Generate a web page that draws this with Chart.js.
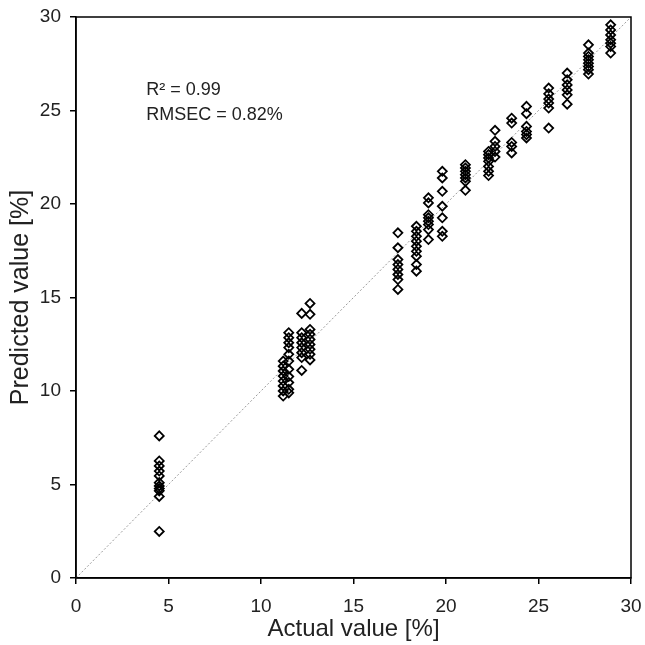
<!DOCTYPE html>
<html>
<head>
<meta charset="utf-8">
<script src="https://cdn.jsdelivr.net/npm/chart.js@4.4.1/dist/chart.umd.min.js"></script>
<style>
  html, body { margin: 0; padding: 0; background: #fff; }
  #wrap { width: 645px; height: 645px; }
</style>
</head>
<body>
<div id="wrap"><canvas id="scatter" width="645" height="645"></canvas></div>
<script>
const actualLevels = [4.5, 11.2, 11.5, 12.2, 12.65, 17.4, 18.4, 19.05, 19.8, 21.05, 22.3, 22.65, 23.55, 24.35, 25.55, 26.55, 27.7, 28.9];
const predictedByLevel = [
    [7.60, 6.26, 5.99, 5.72, 5.46, 5.10, 4.92, 4.78, 4.66, 4.36, 2.49],
    [11.6, 11.33, 11.07, 10.8, 10.53, 10.27, 10.0, 9.73],
    [13.12, 12.85, 12.58, 12.32, 11.96, 11.6, 11.16, 10.77, 10.45, 10.09, 9.9],
    [14.15, 13.12, 12.85, 12.58, 12.32, 12.05, 11.79, 11.1],
    [14.68, 14.1, 13.29, 13.03, 12.76, 12.49, 12.23, 11.96, 11.66],
    [18.46, 17.66, 17.03, 16.76, 16.5, 16.23, 15.96, 15.43],
    [18.81, 18.54, 18.27, 18.01, 17.74, 17.47, 17.21, 16.76, 16.41],
    [20.33, 20.06, 19.43, 19.26, 19.08, 18.9, 18.63, 18.1],
    [21.75, 21.39, 20.68, 19.88, 19.26, 18.54, 18.27],
    [22.1, 21.93, 21.75, 21.57, 21.39, 21.21, 20.73],
    [22.81, 22.64, 22.46, 22.28, 22.01, 21.75, 21.52],
    [23.94, 23.35, 23.08, 22.81, 22.51],
    [24.59, 24.33, 23.29, 23.08, 22.73],
    [25.22, 24.83, 24.15, 23.88, 23.71, 23.53],
    [26.2, 25.89, 25.61, 25.4, 25.13, 24.06],
    [27.0, 26.64, 26.37, 26.1, 25.84, 25.34],
    [28.51, 28.07, 27.89, 27.71, 27.53, 27.35, 27.18, 26.95],
    [29.58, 29.31, 29.04, 28.78, 28.6, 28.42, 28.07]
];
const identityLine = [0, 30];
const axisTicks = [0, 5, 10, 15, 20, 25, 30];
const statsLines = ['R\u00B2 = 0.99', 'RMSEC = 0.82%'];

const FONT = '"Liberation Sans", Arial, sans-serif';

// Montar pontos
const points = [];
actualLevels.forEach((x, i) => {
    predictedByLevel[i].forEach(y => points.push({ x: x, y: y }));
});

// Moldura + texto de estatísticas
const framePlugin = {
    id: 'frame',
    afterDraw(chart) {
        const ctx = chart.ctx;
        const a = chart.chartArea;
        ctx.save();
        ctx.strokeStyle = '#000';
        ctx.lineWidth = 1.5;
        ctx.strokeRect(a.left, a.top, a.right - a.left, a.bottom - a.top);

        const xs = chart.scales.x, ys = chart.scales.y;
        ctx.fillStyle = '#222';
        ctx.font = '18px ' + FONT;
        ctx.textBaseline = 'middle';
        ctx.fillText(statsLines[0], xs.getPixelForValue(3.8), ys.getPixelForValue(26.1));
        ctx.fillText(statsLines[1], xs.getPixelForValue(3.8), ys.getPixelForValue(24.75));
        ctx.restore();
    }
};

new Chart(document.getElementById('scatter'), {
    type: 'scatter',
    data: {
        datasets: [
            {
                data: identityLine.map(v => ({ x: v, y: v })),
                showLine: true,
                borderColor: '#9a9a9a',
                borderWidth: 1,
                borderDash: [2, 2],
                pointRadius: 0,
                order: 2
            },
            {
                data: points,
                pointStyle: 'rectRot',
                pointRadius: 4.5,
                pointBorderWidth: 1.8,
                borderColor: '#000',
                backgroundColor: 'rgba(0,0,0,0)',
                order: 1
            }
        ]
    },
    options: {
        responsive: false,
        animation: false,
        layout: { padding: { top: 17, right: 14, left: 0, bottom: 0 } },
        plugins: { legend: { display: false }, tooltip: { enabled: false } },
        scales: {
            x: {
                type: 'linear', min: 0, max: 30,
                afterBuildTicks: s => { s.ticks = axisTicks.map(v => ({ value: v })); },
                afterFit: s => { s.height = 67; s.paddingLeft = 0; s.paddingRight = 0; },
                grid: { drawOnChartArea: false, drawTicks: true, tickLength: 6, color: '#000', lineWidth: 1.5 },
                border: { display: true, color: '#000', width: 1.5 },
                ticks: { color: '#222', padding: 11, font: { family: FONT, size: 19 } },
                title: { display: true, text: 'Actual value [%]', color: '#222', padding: { top: 0, bottom: 1 }, font: { family: FONT, size: 24 } }
            },
            y: {
                type: 'linear', min: 0, max: 30,
                afterBuildTicks: s => { s.ticks = axisTicks.map(v => ({ value: v })); },
                afterFit: s => { s.width = 76; s.paddingTop = 0; s.paddingBottom = 0; },
                grid: { drawOnChartArea: false, drawTicks: true, tickLength: 6, color: '#000', lineWidth: 1.5 },
                border: { display: true, color: '#000', width: 1.5 },
                ticks: { color: '#222', padding: 9, font: { family: FONT, size: 19 } },
                title: { display: true, text: 'Predicted value [%]', color: '#222', padding: { top: 6, bottom: 0 }, font: { family: FONT, size: 25 } }
            }
        }
    },
    plugins: [framePlugin]
});
</script>
</body>
</html>
